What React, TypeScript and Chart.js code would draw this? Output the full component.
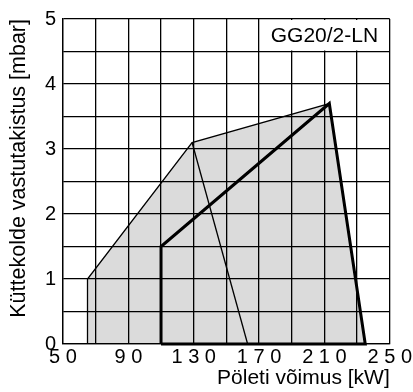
import React, { useEffect, useRef } from 'react';
import { Chart, registerables } from 'chart.js';

Chart.register(...registerables);

// Data
const envelopeX = [65, 65, 129, 213, 235];
const envelopeY = [0, 1, 3.1, 3.7, 0];
const boldX = [110, 110, 213, 235, 110];
const boldY = [0, 1.5, 3.7, 0, 0];
const thinX = [129, 163];
const thinY = [3.1, 0];
const xLabelTicks = [50, 90, 130, 170, 210, 250];
const yLabelTicks = [0, 1, 2, 3, 4, 5];
const modelLabel = 'GG20/2-LN';
const xTitle = 'Pöleti võimus [kW]';
const yTitle = 'Küttekolde vastutakistus [mbar]';

const FONT = "'Liberation Sans', Arial, Helvetica, sans-serif";

const toPoints = (xs: number[], ys: number[]) => xs.map((x, i) => ({ x, y: ys[i] }));

const labelBox = {
  id: 'labelBox',
  beforeDatasetsDraw(chart: any) {
    const { ctx, scales } = chart;
    const x = scales.x;
    const y = scales.y;
    const l = x.getPixelForValue(170);
    const r = x.getPixelForValue(250);
    const t = y.getPixelForValue(5);
    const b = y.getPixelForValue(4.5);
    ctx.save();
    ctx.fillStyle = '#fff';
    ctx.fillRect(l + 1, t + 1, r - l - 2, b - t - 2);
    ctx.fillStyle = '#000';
    ctx.font = `21px ${FONT}`;
    ctx.textAlign = 'center';
    ctx.textBaseline = 'middle';
    ctx.fillText(modelLabel, x.getPixelForValue(210), (t + b) / 2 + 1);
    ctx.restore();
  },
};

export default function App() {
  const ref = useRef<HTMLCanvasElement | null>(null);

  useEffect(() => {
    if (!ref.current) return;
    Chart.defaults.font.family = FONT;
    Chart.defaults.color = '#000';
    const chart = new Chart(ref.current, {
      type: 'scatter',
      data: {
        datasets: [
          {
            data: toPoints(envelopeX, envelopeY),
            showLine: true,
            borderColor: '#000',
            borderWidth: 1.3,
            backgroundColor: 'rgba(0,0,0,0.14)',
            fill: 'origin',
            pointRadius: 0,
            clip: 4,
          },
          {
            data: toPoints(thinX, thinY),
            showLine: true,
            borderColor: '#000',
            borderWidth: 1.3,
            fill: false,
            pointRadius: 0,
            clip: 4,
          },
          {
            data: toPoints(boldX, boldY),
            showLine: true,
            borderColor: '#000',
            borderWidth: 3,
            fill: false,
            pointRadius: 0,
            clip: 4,
          },
        ],
      },
      options: {
        animation: false,
        responsive: false,
        devicePixelRatio: 1,
        layout: { padding: { top: 19, right: 20, bottom: 0, left: 0 } },
        plugins: { legend: { display: false }, tooltip: { enabled: false } },
        scales: {
          x: {
            type: 'linear',
            min: 50,
            max: 250,
            grid: { color: '#000', lineWidth: 1.3, drawTicks: false },
            border: { color: '#000', width: 1.3 },
            ticks: {
              stepSize: 20,
              autoSkip: false,
              maxRotation: 0,
              padding: 1,
              font: { size: 20 },
              color: '#000',
              callback: (v: any) =>
                xLabelTicks.includes(Number(v)) ? String(v).split('').join(' ') : '',
            },
            title: {
              display: true,
              text: xTitle,
              align: 'end',
              font: { size: 21 },
              color: '#000',
              padding: { top: 0, bottom: 1 },
            },
            afterFit: (s: any) => {
              s.height = 48;
            },
          },
          y: {
            type: 'linear',
            min: 0,
            max: 5,
            grid: { color: '#000', lineWidth: 1.3, drawTicks: false },
            border: { color: '#000', width: 1.3 },
            ticks: {
              stepSize: 0.5,
              autoSkip: false,
              padding: 7,
              font: { size: 20 },
              color: '#000',
              callback: (v: any) => (yLabelTicks.includes(Number(v)) ? String(v) : ''),
            },
            title: {
              display: true,
              text: yTitle,
              align: 'end',
              font: { size: 21.5 },
              color: '#000',
              padding: { top: 6, bottom: 0 },
            },
            afterFit: (s: any) => {
              s.width = 63;
            },
          },
        },
      },
      plugins: [labelBox],
    } as any);
    return () => chart.destroy();
  }, []);

  return (
    <div style={{ position: 'fixed', left: 0, top: 0, width: 413, height: 392, background: '#fff' }}>
      <canvas ref={ref} width={413} height={392} style={{ display: 'block' }} />
    </div>
  );
}
